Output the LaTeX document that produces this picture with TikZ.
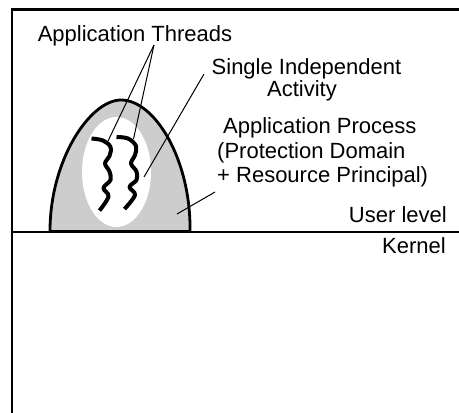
\documentclass[tikz,border=0pt]{standalone}
\usepackage{fontspec}
\setmainfont{Liberation Sans}
\definecolor{domegray}{RGB}{205,205,205}
\begin{document}
\begin{tikzpicture}[x=1pt,y=-1pt,
  lbl/.style={inner sep=0pt,font=\fontsize{22}{24}\selectfont},
  frameline/.style={line width=2.2pt},
  leader/.style={line width=1pt},
  threadline/.style={line width=4pt,line cap=butt,line join=round},
  domeline/.style={line width=2.8pt,line join=round}]
\useasboundingbox (0,0) rectangle (459,413);
% dome
\path[fill=domegray,draw=black,domeline]
  (50,231) .. controls (50,160) and (90,100) .. (121,100)
  .. controls (155,100) and (191,160) .. (190,231);
\fill[white] (116.5,172) ellipse [x radius=34.5, y radius=55];
% threads
\draw[threadline] plot[smooth,tension=0.6] coordinates
  {(91.5,138.5) (103,140.5) (110.5,147) (109.5,156) (105,163.5) (109.5,171.5) (110.5,180) (103.5,188) (108.5,196.5) (99.5,210.5)};
\draw[threadline] plot[smooth,tension=0.6] coordinates
  {(116.5,137) (128,138.5) (136,146) (135,155) (131,163.5) (136.5,171.5) (136.5,180) (129.5,187) (135,195) (124.5,209)};
% coordinates for leader ends
\coordinate (thA) at (154,45);
\coordinate (t1) at (108,141);
\coordinate (t2) at (133.5,139);
\coordinate (sA) at (204,74);
\coordinate (sB) at (144,177);
\coordinate (pA) at (215,192);
\coordinate (pB) at (177,214);
\draw[leader] (thA) -- (t1);
\draw[leader] (thA) -- (t2);
\draw[leader] (sA) -- (sB);
\draw[leader] (pA) -- (pB);
% base of dome and divider
\coordinate (bl) at (50,231.5);
\coordinate (br) at (190,231.5);
\draw[line width=3.2pt] (bl) -- (br);
\coordinate (dl) at (12,231.5);
\coordinate (dr) at (459,231.5);
\draw[line width=2pt] (dl) -- (dr);
% frame
\coordinate (fa) at (12,413);
\coordinate (fb) at (12,9.5);
\coordinate (fc) at (459,9.5);
\draw[frameline] (fa) -- (fb) -- (fc);
% labels
\node[lbl,anchor=base] (threads) at (135,41.5) {Application Threads};
\node[lbl,anchor=base] (single) at (306.5,74) {Single Independent};
\node[lbl,anchor=base] (activity) at (302,96) {Activity};
\node[lbl,anchor=base west] (proc1) at (223,133) {Application Process};
\node[lbl,anchor=base west] (proc2) at (217,158) {(Protection Domain};
\node[lbl,anchor=base west] (proc3) at (217,182) {+ Resource Principal)};
\node[lbl,anchor=base east] (user) at (447,222) {User level};
\node[lbl,anchor=base east] (kernel) at (446,253) {Kernel};
\end{tikzpicture}
\end{document}
